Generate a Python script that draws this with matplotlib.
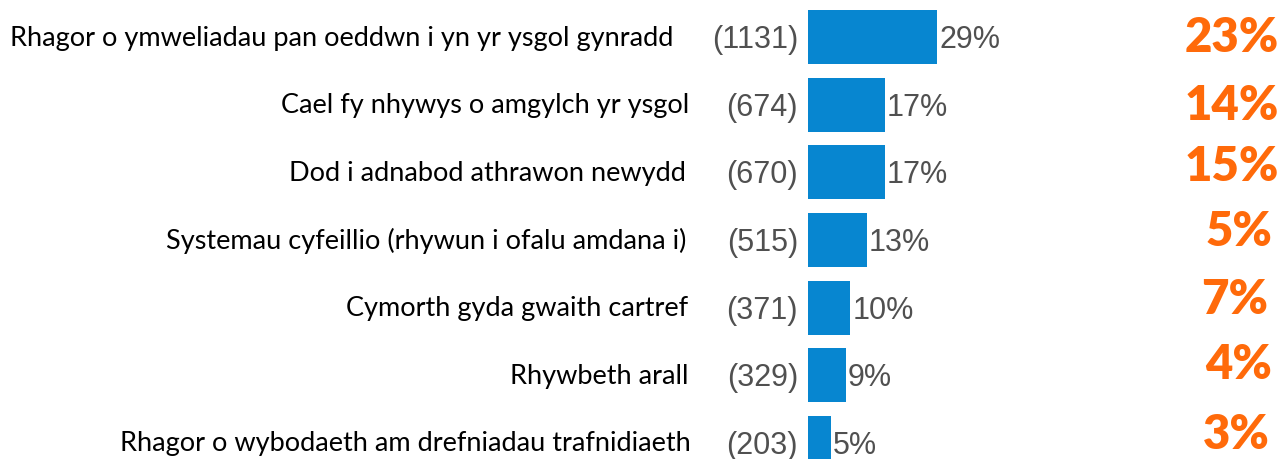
import matplotlib
matplotlib.use("Agg")
import matplotlib.pyplot as plt
from matplotlib.transforms import blended_transform_factory

categories = [
    "Rhagor o ymweliadau pan oeddwn i yn yr ysgol gynradd",
    "Cael fy nhywys o amgylch yr ysgol",
    "Dod i adnabod athrawon newydd",
    "Systemau cyfeillio (rhywun i ofalu amdana i)",
    "Cymorth gyda gwaith cartref",
    "Rhywbeth arall",
    "Rhagor o wybodaeth am drefniadau trafnidiaeth",
]
counts = [1131, 674, 670, 515, 371, 329, 203]
percents = ["29%", "17%", "17%", "13%", "10%", "9%", "5%"]
other_percents = ["23%", "14%", "15%", "5%", "7%", "4%", "3%"]

W, H = 1283, 460
fig = plt.figure(figsize=(W / 100, H / 100), dpi=100)
ax_left = 808 / W
ax = fig.add_axes([ax_left, 0, 1 - ax_left, 1])
px_per_count = 0.1145
ax.set_xlim(0, (W - 808) / px_per_count)
row = 67.57
top_center = 38.3
ax.set_ylim((H - top_center) / row, -top_center / row)
ax.axis("off")

ys = list(range(len(categories)))
ax.barh(ys, counts, height=0.8, color="#0786D0", clip_on=True)

label_right = [673, 689, 686, 686, 688, 688, 691]
orange_right = [1279, 1279, 1279, 1272, 1268, 1272, 1270]
orange_shift = [0.0, 0.0, -0.09, -0.13, -0.13, -0.17, -0.13]
tr = blended_transform_factory(fig.transFigure, ax.transData)
for y, cat, c, p, o, xr, oxr, dy in zip(ys, categories, counts, percents,
                                        other_percents, label_right,
                                        orange_right, orange_shift):
    fig.text(xr / W, y, cat, transform=tr, ha="right", va="center",
             fontsize=19.5, family="Lato", color="#000000")
    fig.text(798 / W, y + 0.03, f"({c})", transform=tr, ha="right", va="center",
             fontsize=22, family="Liberation Sans", color="#505050")
    ax.text(c + 15, y + 0.03, p, ha="left", va="center",
            fontsize=22, family="Liberation Sans", color="#505050")
    fig.text(oxr / W, y + dy, o, transform=tr, ha="right", va="center",
             fontsize=34, family="Lato", fontweight="heavy", color="#FF6A0A")

fig.savefig("out.png", dpi=100)
